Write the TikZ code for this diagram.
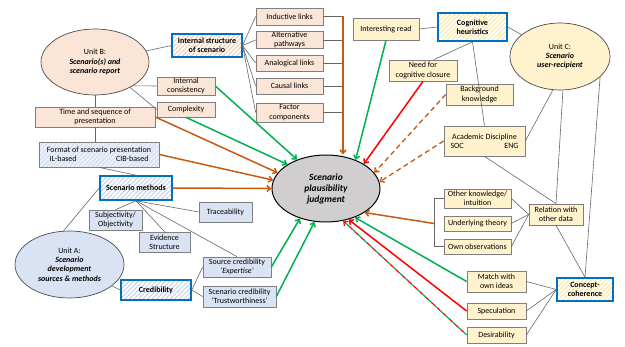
\documentclass[tikz,border=0pt]{standalone}
\usepackage{fontspec}
\setmainfont{Carlito}
\usepackage{tikz}
\usetikzlibrary{arrows.meta,shapes.geometric,patterns.meta}

\definecolor{peach}{HTML}{FBE5D6}
\definecolor{peachdk}{HTML}{F8CBAD}
\definecolor{lyellow}{HTML}{FFF2CC}
\definecolor{yellowdk}{HTML}{FFE699}
\definecolor{lblue}{HTML}{DAE3F3}
\definecolor{bluedk}{HTML}{C5D3EC}
\definecolor{keyblue}{HTML}{0070C0}
\definecolor{boxgray}{HTML}{7F7F7F}
\definecolor{judggray}{HTML}{D0CECE}
\definecolor{orng}{HTML}{C55A11}
\definecolor{grn}{HTML}{00B050}
\definecolor{rd}{HTML}{FF0000}

\tikzset{
  base/.style={draw=boxgray, line width=0.7pt, inner sep=0.5pt, align=center, font=\fontsize{8}{9.3}\selectfont},
  pbox/.style={base, fill=peach},
  ybox/.style={base, fill=lyellow},
  bbox/.style={base, fill=lblue},
  hatch/.style={preaction={fill=white}, pattern={Lines[angle=45,distance=3.2pt,line width=1pt]}, pattern color=#1},
  keybox/.style={base, draw=keyblue, line width=1.6pt, font=\bfseries\fontsize{8}{9.3}\selectfont, hatch=#1},
  unit/.style={ellipse, draw=black!70, line width=0.7pt, fill=#1, align=center, inner sep=0pt, font=\fontsize{8}{9.3}\selectfont},
  conn/.style={draw=black!60, line width=0.6pt},
  tip/.style={-{Straight Barb[length=3.5pt,width=6pt]}},
  oarr/.style={draw=orng, line width=1.5pt, tip},
  odash/.style={draw=orng, line width=1.3pt, dash pattern=on 5pt off 3.5pt, tip},
  garr/.style={draw=grn, line width=1.5pt, tip},
  rarr/.style={draw=rd, line width=1.5pt, tip}
}

\begin{document}
\begin{tikzpicture}[x=1pt,y=-1pt]
  \useasboundingbox (0,0) rectangle (625,347);

  \draw (326,188.5) node[unit=judggray, draw=black, line width=1pt, minimum width=108, minimum height=67, font=\bfseries\itshape\fontsize{9.5}{11}\selectfont] (judg) {Scenario\\plausibility\\judgment};

  \draw (95,62) node[unit=peach, minimum width=108, minimum height=66] (unitB) {Unit B:\\\textbf{\textit{Scenario(s) and}}\\\textbf{\textit{scenario report}}};
  \draw (207,45.5) node[keybox=peachdk, minimum width=70, minimum height=23] (intstruct) {Internal structure\\of scenario};
  \draw (289.5,16.5) node[pbox, minimum width=67, minimum height=17] (ind) {Inductive links};
  \draw (289.5,40) node[pbox, minimum width=67, minimum height=17] (alt) {Alternative\\pathways};
  \draw (289.5,63) node[pbox, minimum width=67, minimum height=16] (anal) {Analogical links};
  \draw (289.5,86) node[pbox, minimum width=67, minimum height=16] (causal) {Causal links};
  \draw (289.5,112.5) node[pbox, minimum width=67, minimum height=19] (factor) {Factor\\components};
  \draw (186,86) node[pbox, minimum width=58, minimum height=18] (intcons) {Internal\\consistency};
  \draw (186,109.5) node[pbox, minimum width=58, minimum height=15] (complex) {Complexity};
  \draw (95,117) node[pbox, minimum width=120, minimum height=20] (timeseq) {Time and sequence of\\presentation};

  \draw (99,154.5) node[base, preaction={fill=lblue}, pattern={Lines[angle=45,distance=3.2pt,line width=1pt]}, pattern color=white!70!lblue, minimum width=120, minimum height=25] (format) {Format of scenario presentation\\\makebox[99pt]{IL-based\hfill CIB-based}};
  \draw (136,188) node[keybox=bluedk, minimum width=72, minimum height=24] (smeth) {Scenario methods};
  \draw (115.5,220) node[bbox, minimum width=53, minimum height=20] (subj) {Subjectivity/\\Objectivity};
  \draw (164.5,242) node[bbox, minimum width=51, minimum height=20] (evid) {Evidence\\Structure};
  \draw (225.5,212) node[bbox, minimum width=53, minimum height=20] (trace) {Traceability};
  \draw (237,267) node[bbox, minimum width=68, minimum height=20] (srccred) {Source credibility\\\textit{‘Expertise’}};
  \draw (239.5,296.5) node[bbox, minimum width=73, minimum height=21] (trust) {Scenario credibility\\‘Trustworthiness’};
  \draw (69.5,264.5) node[unit=lblue, minimum width=109, minimum height=67] (unitA) {Unit A:\\\textbf{\textit{Scenario}}\\\textbf{\textit{development}}\\\textbf{\textit{sources \& methods}}};
  \draw (156,290) node[keybox=bluedk, minimum width=70, minimum height=20] (cred) {Credibility};

  \draw (386,29) node[ybox, minimum width=66, minimum height=22] (intread) {Interesting read};
  \draw (472.5,27) node[keybox=yellowdk, minimum width=69, minimum height=28] (cogheur) {Cognitive\\heuristics};
  \draw (560,56.5) node[unit=lyellow, minimum width=100, minimum height=67] (unitC) {Unit C:\\\textbf{\textit{Scenario}}\\\textbf{\textit{user-recipient}}};
  \draw (423,70.5) node[ybox, minimum width=68, minimum height=21] (needcl) {Need for\\cognitive closure};
  \draw (479.5,94.5) node[ybox, minimum width=67, minimum height=21] (backg) {Background\\knowledge};
  \draw (484.5,141) node[ybox, minimum width=81, minimum height=30] (acad) {Academic Discipline\\\makebox[68pt]{SOC\hfill ENG}};
  \draw (477.5,198.5) node[ybox, minimum width=67, minimum height=19] (otherk) {Other knowledge/\\intuition};
  \draw (477.5,223.5) node[ybox, minimum width=67, minimum height=15] (theory) {Underlying theory};
  \draw (477.5,246.5) node[ybox, minimum width=67, minimum height=15] (ownobs) {Own observations};
  \draw (556,214.5) node[ybox, minimum width=54, minimum height=21] (relation) {Relation with\\other data};
  \draw (585,289.5) node[keybox=yellowdk, minimum width=56, minimum height=23] (concept) {Concept-\\coherence};
  \draw (496.5,281.5) node[ybox, minimum width=59, minimum height=21] (match) {Match with\\own ideas};
  \draw (496.5,311) node[ybox, minimum width=59, minimum height=16] (spec) {Speculation};
  \draw (496.5,335) node[ybox, minimum width=59, minimum height=16] (desir) {Desirability};

  \coordinate (ortop) at (343,16.5);
  \coordinate (brk) at (434,223.5);

  \path[conn] (unitB) edge (intstruct.west);
  \path[conn] (unitB.-32) edge (intcons.west);
  \path[conn] (unitB.-36) edge (complex.west);
  \path[conn] (unitB.south) edge (timeseq.north);
  \path[conn] (timeseq.south) edge (timeseq.south |- format.north);
  \path[conn] (format.south) edge (smeth.north);
  \path[conn] (smeth.west) edge (unitA.100);
  \path[conn] (smeth.south) edge (subj.north);
  \path[conn] (smeth.south) edge (evid.north);
  \path[conn] (smeth.south) edge (trace.west);
  \path[conn] (smeth.south) edge (srccred.north);
  \path[conn] (unitA) edge (cred.west);
  \path[conn] (cred.east) edge (srccred.west);
  \path[conn] (cred.east) edge (trust.west);
  \foreach \b in {ind,alt,anal,causal,factor} {
    \path[conn] (intstruct.east) edge (\b.west);
    \path[conn] (\b.east) edge (\b.east -| ortop);
  }
  \path[conn] (intread.east) edge (cogheur.west);
  \path[conn] (cogheur.south) edge (needcl.45);
  \path[conn] (cogheur.south) edge (acad.north);
  \path[conn] (cogheur.east) edge (unitC);
  \path[conn] (acad.east) edge (unitC.258);
  \path[conn] (acad.south) edge (relation.north);
  \path[conn] (unitC.275) edge (relation.north);
  \path[conn] (unitC.-27) edge (concept.north);
  \path[conn] (relation.south) edge (concept.north);
  \foreach \b in {otherk,theory,ownobs} \path[conn] (\b.east) edge (relation.west);
  \draw[conn] (otherk.west) -- (otherk.west -| brk) -- (ownobs.west -| brk) -- (ownobs.west);
  \foreach \b in {match,spec,desir} \path[conn] (\b.east) edge (concept.west);

  \draw[oarr] (ortop) -- (ortop |- judg.north);
  \draw[garr] (intcons.east) -- (judg.135);
  \draw[garr] (complex.south) -- (judg.148);
  \draw[oarr] (timeseq.east) -- (judg.162);
  \draw[oarr] (format.east) -- (judg.171);
  \draw[oarr] (smeth.east) -- (judg.180);
  \draw[garr] (srccred.east) -- (judg.229);
  \draw[garr] (trust.east) -- (judg.251);
  \draw[garr] (intread.south) -- (judg.44);
  \draw[rarr] (needcl.south) -- (judg.33);
  \draw[odash] (backg.west) -- (judg.18);
  \draw[odash] (acad.west) -- (judg.7);
  \draw[oarr] (brk) -- (judg.-32);
  \draw[garr] (match.west) -- (judg.-45);
  \draw[rarr] (spec.west) -- (judg.-54);
  \draw[draw=grn, line width=1.2pt, dash pattern=on 4pt off 4pt] (desir.west) -- (judg.-62);
  \draw[rarr, line width=1.2pt, dash pattern=on 4pt off 4pt, dash phase=4pt] (desir.west) -- (judg.-62);
\end{tikzpicture}
\end{document}
